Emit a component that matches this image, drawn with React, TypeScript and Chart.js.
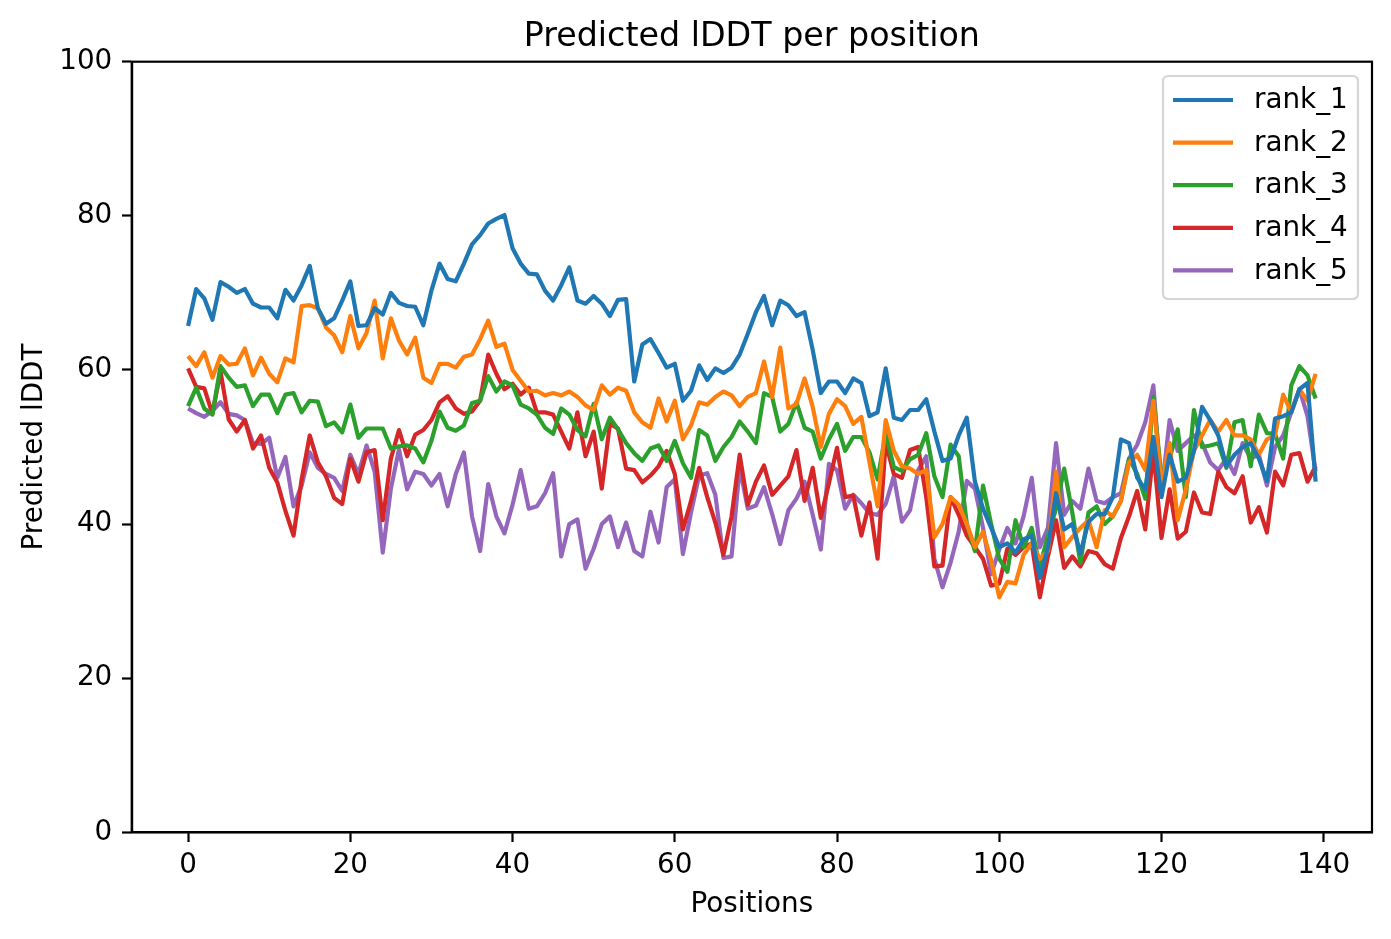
import React, { useEffect, useRef } from "react";
import { Chart, registerables } from "chart.js";

Chart.register(...registerables);

const TITLE = "Predicted lDDT per position";
const X_LABEL = "Positions";
const Y_LABEL = "Predicted lDDT";
const seriesNames = ["rank_1", "rank_2", "rank_3", "rank_4", "rank_5"];
const seriesColors = ["#1f77b4", "#ff7f0e", "#2ca02c", "#d62728", "#9467bd"];
const xTicks = [0, 20, 40, 60, 80, 100, 120, 140];
const yTicks = [0, 20, 40, 60, 80, 100];

const rank1 = [
  65.7, 70.5, 69.3, 66.5, 71.4, 70.8, 70.0, 70.5, 68.6, 68.1,
  68.1, 66.7, 70.4, 69.0, 71.0, 73.5, 68.0, 66.0, 66.7, 69.0,
  71.5, 65.7, 65.8, 68.0, 67.2, 70.0, 68.7, 68.3, 68.2, 65.8,
  70.3, 73.8, 71.8, 71.5, 73.8, 76.3, 77.5, 79.0, 79.6, 80.1,
  75.8, 73.8, 72.5, 72.4, 70.3, 69.0, 71.0, 73.3, 69.0, 68.6,
  69.6, 68.6, 67.0, 69.1, 69.2, 58.5, 63.3, 64.0, 62.2, 60.3,
  60.8, 56.0, 57.3, 60.6, 58.7, 60.2, 59.6, 60.3, 62.0, 64.7,
  67.5, 69.6, 65.8, 69.0, 68.4, 67.0, 67.5, 62.6, 57.0, 58.5,
  58.5, 57.0, 58.9, 58.3, 54.0, 54.5, 60.2, 53.8, 53.5, 54.8,
  54.8, 56.2, 52.0, 48.2, 48.5, 51.5, 53.8, 45.5, 42.0, 39.5,
  37.0, 37.5, 36.3, 38.0, 38.5, 33.0, 37.0, 44.0, 39.3, 40.0,
  36.2, 40.3, 41.3, 41.3, 43.5, 51.0, 50.5, 46.0, 44.5, 51.3,
  43.5, 49.0, 45.5, 46.0, 49.5, 55.2, 53.5, 51.5, 47.5, 49.0,
  50.0, 50.5, 48.5, 45.6, 53.7, 54.0, 54.5, 57.5, 58.3, 45.5,
];

const rank2 = [
  61.8, 60.5, 62.3, 59.0, 61.8, 60.7, 60.8, 62.8, 59.3, 61.6,
  59.5, 58.4, 61.5, 61.0, 68.3, 68.4, 68.0, 65.5, 64.5, 62.3,
  67.0, 62.8, 64.8, 69.0, 61.5, 66.7, 63.8, 62.0, 64.2, 59.0,
  58.3, 60.8, 60.8, 60.3, 61.7, 62.0, 64.0, 66.4, 63.0, 63.4,
  60.0, 58.6, 57.2, 57.3, 56.7, 57.0, 56.7, 57.2, 56.5, 55.4,
  54.8, 58.0, 56.8, 57.7, 57.3, 54.5, 53.2, 52.5, 56.3, 53.3,
  56.0, 51.0, 52.8, 55.8, 55.5, 56.5, 57.2, 56.7, 55.3, 56.5,
  57.0, 61.1, 56.5, 62.9, 55.0, 55.6, 58.9, 55.2, 50.0, 54.3,
  56.2, 55.3, 53.0, 53.9, 48.0, 42.3, 53.5, 49.5, 47.5, 47.2,
  46.5, 47.0, 38.3, 40.0, 43.5, 42.5, 40.0, 37.0, 39.0, 35.3,
  30.5, 32.5, 32.3, 36.0, 37.5, 35.5, 36.5, 46.8, 37.0, 38.3,
  39.5, 40.5, 37.0, 41.8, 41.0, 43.0, 48.0, 49.0, 47.0, 56.0,
  45.0, 50.5, 40.5, 44.5, 49.5, 51.5, 53.5, 52.0, 53.5, 51.5,
  51.5, 51.0, 49.0, 51.0, 51.5, 56.8, 54.5, 57.5, 56.0, 59.5,
];

const rank3 = [
  55.3, 57.7, 55.0, 54.2, 60.5, 59.0, 57.8, 58.0, 55.3, 56.8,
  56.8, 54.4, 56.8, 57.0, 54.5, 56.0, 55.9, 52.7, 53.2, 51.9,
  55.5, 51.2, 52.4, 52.4, 52.4, 49.8, 50.1, 50.2, 49.8, 48.0,
  50.8, 54.6, 52.5, 52.1, 52.8, 55.7, 56.0, 59.2, 57.2, 58.5,
  58.0, 55.5, 55.0, 54.2, 52.5, 51.7, 55.0, 54.2, 52.2, 51.4,
  55.6, 51.0, 53.8, 52.3, 50.5, 49.2, 48.2, 49.8, 50.2, 48.2,
  50.8, 47.9, 46.0, 52.2, 51.5, 48.2, 50.0, 51.3, 53.3, 52.0,
  50.5, 57.0, 56.5, 52.0, 53.0, 55.8, 52.5, 52.0, 48.5, 51.0,
  53.0, 49.5, 51.3, 51.3, 49.3, 45.8, 51.8, 47.4, 46.9, 48.4,
  49.0, 51.8, 46.2, 43.5, 50.3, 48.8, 40.0, 36.5, 45.0, 40.0,
  35.5, 33.8, 40.5, 37.0, 39.5, 34.5, 38.5, 42.0, 47.2, 41.5,
  35.0, 41.5, 42.3, 40.0, 41.0, 43.0, 48.5, 46.5, 43.3, 56.5,
  46.0, 48.5, 52.3, 43.5, 54.8, 50.0, 50.2, 50.5, 47.3, 53.2,
  53.5, 47.5, 54.2, 51.8, 51.7, 48.5, 58.0, 60.5, 59.3, 56.3,
];

const rank4 = [
  60.2, 57.8, 57.6, 54.3, 59.8, 53.6, 52.0, 53.5, 49.8, 51.5,
  47.3, 45.4, 41.7, 38.5, 45.8, 51.5, 48.0, 46.2, 43.4, 42.6,
  48.5, 45.5, 49.3, 49.6, 40.5, 48.5, 52.2, 48.8, 51.6, 52.2,
  53.5, 55.8, 56.6, 55.0, 54.3, 54.6, 56.0, 62.0, 59.5, 57.5,
  58.2, 56.8, 57.7, 54.5, 54.5, 54.2, 52.0, 49.8, 54.5, 48.8,
  52.0, 44.6, 53.0, 52.4, 47.2, 47.0, 45.4, 46.3, 47.5, 49.5,
  46.5, 39.3, 43.0, 47.3, 43.5, 40.2, 36.0, 41.0, 49.0, 42.5,
  45.5, 47.6, 43.8, 45.0, 46.2, 49.6, 43.0, 47.3, 40.8, 45.3,
  49.9, 43.5, 43.7, 38.5, 42.8, 35.5, 50.6, 46.5, 46.0, 49.6,
  50.0, 43.5, 34.5, 34.6, 43.5, 41.2, 38.5, 37.0, 35.5, 32.0,
  32.3, 36.8, 36.0, 37.0, 37.5, 30.5, 35.8, 40.5, 34.3, 35.8,
  34.5, 36.5, 36.2, 34.8, 34.2, 38.2, 41.0, 44.3, 39.3, 49.5,
  38.2, 44.5, 38.1, 39.0, 44.1, 41.5, 41.3, 46.8, 44.8, 44.0,
  46.2, 40.2, 42.2, 38.9, 46.8, 45.0, 49.0, 49.2, 45.5, 47.5,
];

const rank5 = [
  55.0, 54.4, 53.9, 54.7, 55.8, 54.3, 54.1, 53.5, 50.5, 50.4,
  51.2, 46.0, 48.7, 42.3, 45.0, 49.3, 47.3, 46.5, 46.0, 44.3,
  49.0, 46.5, 50.2, 46.8, 36.3, 44.6, 49.7, 44.5, 46.8, 46.5,
  45.0, 46.5, 42.3, 46.5, 49.3, 41.0, 36.5, 45.2, 41.0, 38.8,
  42.5, 47.0, 42.0, 42.3, 44.0, 46.6, 35.8, 40.0, 40.6, 34.2,
  36.8, 40.0, 41.0, 37.0, 40.2, 36.5, 35.8, 41.6, 37.6, 44.8,
  45.8, 36.1, 41.5, 46.3, 46.6, 43.8, 35.6, 35.8, 47.4, 42.0,
  42.4, 44.8, 41.3, 37.4, 41.8, 43.3, 45.5, 41.2, 36.7, 47.8,
  47.0, 42.0, 43.8, 42.7, 41.4, 41.2, 42.6, 46.2, 40.3, 41.8,
  47.0, 48.8, 35.5, 31.8, 35.0, 39.0, 45.6, 44.6, 39.5, 33.5,
  36.7, 39.5, 37.5, 41.0, 46.0, 37.0, 39.5, 50.5, 41.2, 43.0,
  42.0, 47.2, 43.0, 42.7, 43.5, 44.0, 48.5, 50.3, 53.2, 58.0,
  44.0, 53.5, 49.5, 50.5, 51.5, 50.5, 48.0, 47.0, 48.5, 46.5,
  50.5, 48.5, 49.0, 45.0, 50.0, 51.5, 54.5, 57.5, 54.0, 46.8,
];

const seriesValues = [rank1, rank2, rank3, rank4, rank5];

const FONT = '"DejaVu Sans", sans-serif';
const TICK_PX = 27.8;
const TITLE_PX = 33.3;

const framePlugin = {
  id: "mplFrame",
  afterDraw(chart: any) {
    const ctx = chart.ctx;
    const { left, right, top, bottom } = chart.chartArea;
    ctx.save();
    ctx.strokeStyle = "#000";
    ctx.lineWidth = 2.2;
    ctx.strokeRect(left, top, right - left, bottom - top);
    ctx.fillStyle = "#000";
    ctx.font = `${TITLE_PX}px ${FONT}`;
    ctx.textAlign = "center";
    ctx.textBaseline = "alphabetic";
    ctx.fillText(TITLE, (left + right) / 2, 46);
    ctx.font = `${TICK_PX}px ${FONT}`;
    ctx.fillText(X_LABEL, (left + right) / 2, 912);
    ctx.save();
    ctx.translate(42, (top + bottom) / 2);
    ctx.rotate(-Math.PI / 2);
    ctx.textBaseline = "alphabetic";
    ctx.fillText(Y_LABEL, 0, 0);
    ctx.restore();
    const lx = 1163, ly = 76, lw = 195, lh = 223, r = 5.5;
    ctx.beginPath();
    ctx.moveTo(lx + r, ly);
    ctx.lineTo(lx + lw - r, ly);
    ctx.quadraticCurveTo(lx + lw, ly, lx + lw, ly + r);
    ctx.lineTo(lx + lw, ly + lh - r);
    ctx.quadraticCurveTo(lx + lw, ly + lh, lx + lw - r, ly + lh);
    ctx.lineTo(lx + r, ly + lh);
    ctx.quadraticCurveTo(lx, ly + lh, lx, ly + lh - r);
    ctx.lineTo(lx, ly + r);
    ctx.quadraticCurveTo(lx, ly, lx + r, ly);
    ctx.closePath();
    ctx.fillStyle = "rgba(255,255,255,0.8)";
    ctx.fill();
    ctx.strokeStyle = "#d6d6d6";
    ctx.lineWidth = 2.2;
    ctx.stroke();
    ctx.font = `${TICK_PX}px ${FONT}`;
    ctx.textAlign = "left";
    ctx.textBaseline = "middle";
    seriesNames.forEach((name, k) => {
      const cy = 100 + k * 42.6;
      ctx.strokeStyle = seriesColors[k];
      ctx.lineWidth = 4.2;
      ctx.beginPath();
      ctx.moveTo(1173, cy);
      ctx.lineTo(1233, cy);
      ctx.stroke();
      ctx.fillStyle = "#000";
      ctx.fillText(name, 1254, cy + 1);
    });
    ctx.restore();
  },
};

export default function App() {
  const ref = useRef<HTMLCanvasElement | null>(null);
  useEffect(() => {
    document.body.style.margin = "0";
    const canvas = ref.current;
    if (!canvas) return;
    const datasets = seriesNames.map((name, k) => ({
      label: name,
      data: seriesValues[k].map((v, i) => ({ x: i, y: v })),
      borderColor: seriesColors[k],
      backgroundColor: seriesColors[k],
      borderWidth: 4.2,
      pointRadius: 0,
      tension: 0,
      fill: false,
      borderJoinStyle: "round" as const,
      borderCapStyle: "butt" as const,
    }));
    const tickGrid = {
      display: true,
      drawOnChartArea: false,
      drawTicks: true,
      tickLength: 9.7,
      tickWidth: 2.2,
      tickColor: "#000",
      color: "#000",
    };
    const chart = new Chart(canvas, {
      type: "line",
      data: { datasets },
      options: {
        animation: false,
        responsive: false,
        devicePixelRatio: 1,
        layout: { padding: { top: 61.7, right: 19, left: 0, bottom: 0 } },
        plugins: { legend: { display: false }, tooltip: { enabled: false }, title: { display: false } },
        scales: {
          x: {
            type: "linear",
            min: -6.95,
            max: 145.95,
            afterBuildTicks: (scale: any) => {
              scale.ticks = xTicks.map((v) => ({ value: v }));
            },
            afterFit: (scale: any) => {
              scale.height = 106.7;
            },
            grid: tickGrid,
            border: { display: true, color: "#000", width: 2.2 },
            ticks: {
              color: "#000",
              font: { family: FONT, size: TICK_PX },
              padding: 7,
              maxRotation: 0,
              autoSkip: false,
              callback: (v: any) => String(v),
            },
          },
          y: {
            type: "linear",
            min: 0,
            max: 100,
            afterBuildTicks: (scale: any) => {
              scale.ticks = yTicks.map((v) => ({ value: v }));
            },
            afterFit: (scale: any) => {
              scale.width = 131.7;
            },
            grid: tickGrid,
            border: { display: true, color: "#000", width: 2.2 },
            ticks: {
              color: "#000",
              font: { family: FONT, size: TICK_PX },
              padding: 9.7,
              autoSkip: false,
              callback: (v: any) => String(v),
            },
          },
        },
      },
      plugins: [framePlugin],
    });
    return () => chart.destroy();
  }, []);
  return (
    <canvas
      ref={ref}
      width={1391}
      height={939}
      style={{ display: "block", width: "1391px", height: "939px" }}
    />
  );
}
